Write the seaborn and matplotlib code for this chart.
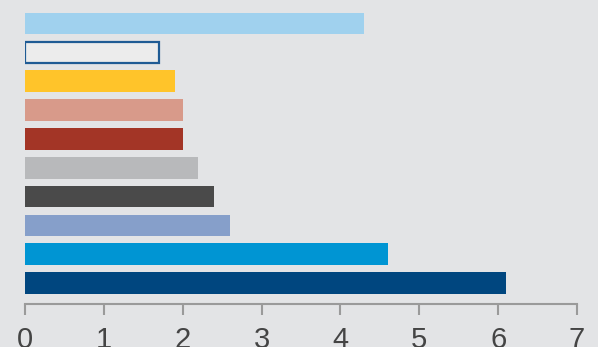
import matplotlib
matplotlib.use("Agg")
import matplotlib.pyplot as plt
import seaborn as sns
import pandas as pd

categories = ["C1", "C2", "C3", "C4", "C5", "C6", "C7", "C8", "C9", "C10"]
values = [4.3, 1.7, 1.9, 2.0, 2.0, 2.2, 2.4, 2.6, 4.6, 6.1]
colors = ["#a0d1ee", "#ececec", "#ffc42a", "#d89a8a", "#a33526",
          "#b8b9bb", "#4a4a4a", "#869fca", "#0095d3", "#00467f"]
xticks = [0, 1, 2, 3, 4, 5, 6, 7]

sns.set_style("white")
plt.rcParams['font.family'] = ['Liberation Sans', 'DejaVu Sans']

df = pd.DataFrame({"cat": categories, "val": values})

fig = plt.figure(figsize=(5.98, 3.47), dpi=100)
bg = "#e3e4e6"
fig.patch.set_facecolor(bg)
ax = fig.add_axes([25/598, 43/347, 552/598, 304/347])
ax.set_facecolor(bg)

sns.barplot(data=df, y="cat", x="val", hue="cat", palette=colors,
            orient="h", width=0.75, legend=False, ax=ax, saturation=1)

for i, p in enumerate(ax.patches):
    if i == 1:
        p.set_edgecolor("#1f5b94")
        p.set_linewidth(1.6)
    else:
        p.set_edgecolor("none")

ax.set_xlim(0, 7)
ax.set_ylim(9.73, -0.82)
ax.set_xticks(xticks)
ax.set_xticklabels([str(t) for t in xticks])
ax.set_yticks([])
ax.set_xlabel("")
ax.set_ylabel("")
for s in ["top", "right", "left"]:
    ax.spines[s].set_visible(False)
ax.spines["bottom"].set_color("#9a9a9a")
ax.spines["bottom"].set_linewidth(1.5)
ax.tick_params(axis="x", bottom=True, direction="out", length=8, width=1.5,
               color="#9a9a9a", labelsize=21, labelcolor="#444444", pad=8)

fig.savefig("out.png", dpi=100, facecolor=bg)
